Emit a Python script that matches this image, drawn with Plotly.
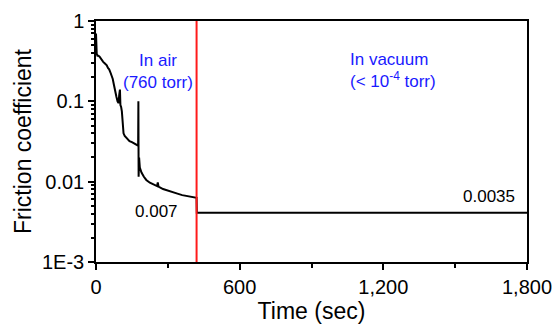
import math
import plotly.graph_objects as go

# Air segment (time in sec, friction coefficient)
air_time = [0, 1, 3, 6, 10, 15, 20, 25, 30, 35, 40, 45, 50, 55, 60, 65, 70, 75, 80, 85, 90, 94, 97,
            100, 102, 105, 108, 110, 112, 115, 120, 130, 140, 150, 160, 170, 176, 177, 178, 179, 180,
            183, 190, 200, 210, 225, 240, 255, 258, 261, 280, 300, 320, 340, 360, 380, 400, 418]
air_cof = [0.70, 0.45, 0.39, 0.37, 0.37, 0.36, 0.34, 0.33, 0.31, 0.30, 0.29, 0.28, 0.26, 0.25, 0.23,
           0.21, 0.19, 0.16, 0.13, 0.115, 0.10, 0.095, 0.12, 0.14, 0.09, 0.085, 0.075, 0.06, 0.046,
           0.040, 0.037, 0.034, 0.032, 0.031, 0.030, 0.029, 0.028, 0.10, 0.0115, 0.03, 0.02,
           0.015, 0.013, 0.0115, 0.0105, 0.0097, 0.0092, 0.0088, 0.0098, 0.0087, 0.0081, 0.0077,
           0.0074, 0.0071, 0.0068, 0.0066, 0.0064, 0.0063]

# Vacuum segment
vac_time = [420, 421, 450, 500, 550, 600, 650, 700, 750, 800, 850, 900, 950, 1000, 1050, 1100,
            1150, 1200, 1250, 1300, 1350, 1400, 1450, 1500, 1550, 1600, 1650, 1700, 1750, 1800]
vac_cof = [0.0063, 0.0041, 0.0041, 0.00408, 0.00412, 0.0041, 0.00407, 0.0041, 0.00411, 0.00408,
           0.0041, 0.00412, 0.00409, 0.0041, 0.00408, 0.00411, 0.0041, 0.00409, 0.00412, 0.0041,
           0.00408, 0.0041, 0.00411, 0.00409, 0.0041, 0.00412, 0.00409, 0.0041, 0.00411, 0.0041]

switch_time = 420

x_tickvals = [0, 600, 1200, 1800]
x_ticktext = ["0", "600", "1,200", "1,800"]
y_tickvals = [1, 0.1, 0.01, 0.001]
y_ticktext = ["1", "0.1", "0.01", "1E-3"]

font = "Liberation Sans, Arial, sans-serif"

fig = go.Figure()
fig.add_trace(go.Scatter(x=air_time + vac_time, y=air_cof + vac_cof, mode="lines",
                         line=dict(color="black", width=2), showlegend=False))

fig.add_shape(type="line", x0=switch_time, x1=switch_time, y0=0, y1=1, xref="x", yref="paper",
              line=dict(color="#ff1a1a", width=2))

minor_y = [m * 10 ** e for e in (-3, -2, -1) for m in range(2, 10)]

fig.update_layout(
    width=552, height=326,
    margin=dict(l=96, r=25, t=21, b=64),
    plot_bgcolor="white", paper_bgcolor="white",
    font=dict(family=font, color="black"),
    xaxis=dict(range=[0, 1800], tickmode="array", tickvals=x_tickvals, ticktext=x_ticktext,
               ticks="outside", ticklen=6, tickwidth=1.5, tickcolor="black",
               showline=True, linecolor="black", linewidth=1.5, mirror=True,
               showgrid=False, zeroline=False, tickfont=dict(size=20),
               automargin=False, ticklabeloverflow="allow",
               minor=dict(tickmode="array", tickvals=[300, 900, 1500], ticks="outside",
                          ticklen=4, tickcolor="black", showgrid=False),
               title=dict(text="Time (sec)", font=dict(size=23), standoff=5)),
    yaxis=dict(type="log", range=[-3, 0], tickmode="array", tickvals=y_tickvals, ticktext=y_ticktext,
               ticks="outside", ticklen=6, tickwidth=1.5, tickcolor="black",
               showline=True, linecolor="black", linewidth=1.5, mirror=True,
               showgrid=False, zeroline=False, tickfont=dict(size=20),
               automargin=False,
               minor=dict(tickmode="array", tickvals=minor_y, ticks="outside",
                          ticklen=3, tickcolor="black", showgrid=False),
               title=dict(text="Friction coefficient", font=dict(size=23), standoff=4)),
)

blue = "#1a1aff"
fig.add_annotation(x=259, y=math.log10(0.234), xref="x", yref="y", yanchor="middle",
                   text="In air<br>(760 torr)", showarrow=False,
                   font=dict(size=17, color=blue, family=font))
fig.add_annotation(x=1052, y=math.log10(0.245), xref="x", yref="y", yanchor="middle",
                   xanchor="left", align="left",
                   text="In vacuum<br>(< 10<sup>-4</sup> torr)", showarrow=False,
                   font=dict(size=17, color=blue, family=font))
fig.add_annotation(x=251, y=math.log10(0.00431), xref="x", yref="y", text="0.007", showarrow=False,
                   font=dict(size=17, color="black", family=font))
fig.add_annotation(x=1641, y=math.log10(0.00646), xref="x", yref="y", text="0.0035", showarrow=False,
                   font=dict(size=17, color="black", family=font))

fig.write_html("out.html", config={"displayModeBar": False},
               post_script="document.body.style.margin='0';document.body.style.overflow='hidden';")
